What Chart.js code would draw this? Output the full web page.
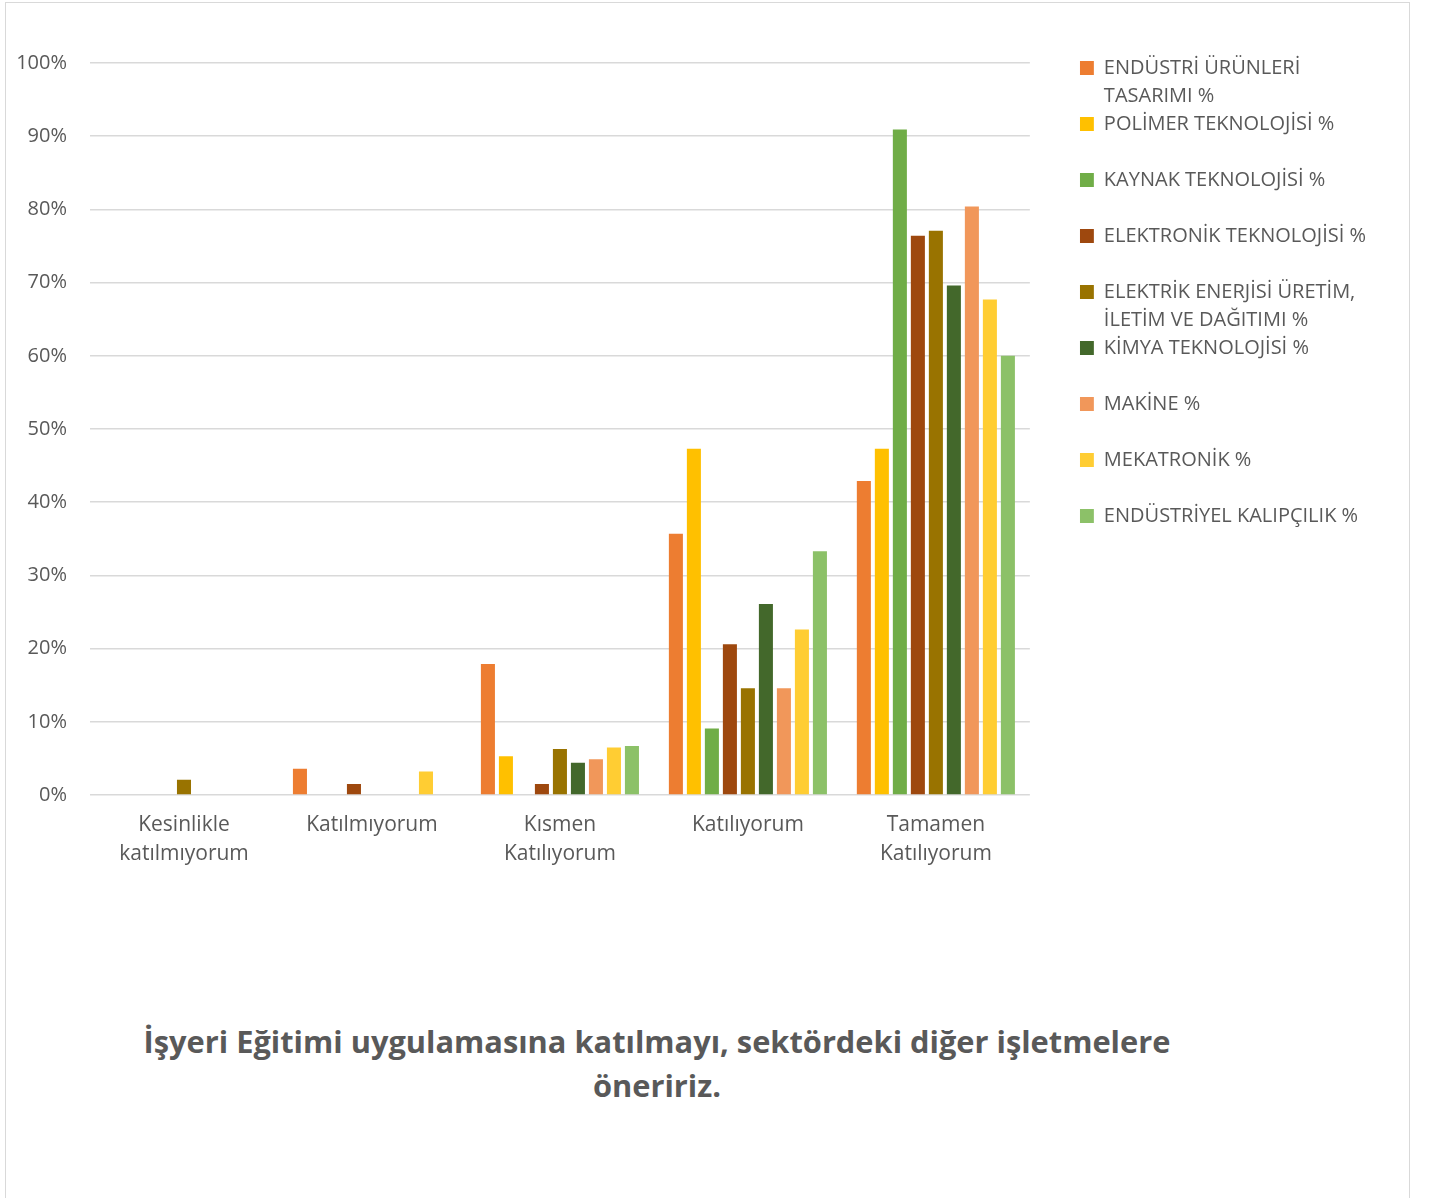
<!DOCTYPE html>
<html>
<head>
<meta charset="utf-8">
<script src="https://cdn.jsdelivr.net/npm/chart.js@4.4.1/dist/chart.umd.min.js"></script>
<style>
  body { margin: 0; background: #fff; }
  #frame { position: absolute; left: 5px; top: 2px; width: 1403px; height: 1200px; border: 1px solid #d9d9d9; }
  #chart { position: absolute; left: 0; top: 0; }
  #title {
    position: absolute; left: 0; top: 1019px; width: 1314px;
    text-align: center; font: bold 30.8px "Open Sans", sans-serif; line-height: 44px; color: #595959;
  }
</style>
</head>
<body>
<div id="frame">
  <canvas id="chart" width="1403" height="892"></canvas>
</div>
<div id="title">İşyeri Eğitimi uygulamasına katılmayı, sektördeki diğer işletmelere<br>öneririz.</div>
<script>
// categories on the x axis (multi-line labels)
const categories = [
  ['Kesinlikle', 'katılmıyorum'],
  'Katılmıyorum',
  ['Kısmen', 'Katılıyorum'],
  'Katılıyorum',
  ['Tamamen', 'Katılıyorum']
];

// one array per department, % answers per category
const endustriUrunleri = [null, 3.6, 17.9, 35.7, 42.9];
const polimer          = [null, null, 5.3, 47.3, 47.3];
const kaynak           = [null, null, null, 9.1, 90.9];
const elektronik       = [null, 1.5, 1.5, 20.6, 76.4];
const elektrik         = [2.1, null, 6.3, 14.6, 77.1];
const kimya            = [null, null, 4.4, 26.1, 69.6];
const makine           = [null, null, 4.9, 14.6, 80.4];
const mekatronik       = [null, 3.2, 6.5, 22.6, 67.7];
const kalipcilik       = [null, null, 6.7, 33.3, 60.0];

const seriesNames = [
  'ENDÜSTRİ ÜRÜNLERİ\nTASARIMI %',
  'POLİMER TEKNOLOJİSİ %',
  'KAYNAK TEKNOLOJİSİ %',
  'ELEKTRONİK TEKNOLOJİSİ %',
  'ELEKTRİK ENERJİSİ ÜRETİM,\nİLETİM VE DAĞITIMI %',
  'KİMYA TEKNOLOJİSİ %',
  'MAKİNE %',
  'MEKATRONİK %',
  'ENDÜSTRİYEL KALIPÇILIK %'
];
const seriesData = [endustriUrunleri, polimer, kaynak, elektronik, elektrik, kimya, makine, mekatronik, kalipcilik];
const seriesColors = ['#ED7D31', '#FFC000', '#70AD47', '#9E480E', '#997300', '#43682B', '#F1975A', '#FFCD33', '#8CC168'];

const yTicks = [0, 10, 20, 30, 40, 50, 60, 70, 80, 90, 100];

const textColor = '#595959';
const baseFont = { family: '"Open Sans", sans-serif', size: 20 };

// push the legend a bit away from the plot area (Excel style gap)
const legendGap = {
  id: 'legendGap',
  afterLayout(chart) {
    chart.legend.left += 50;
    chart.legend.right += 50;
  }
};

const ctx = document.getElementById('chart').getContext('2d');
new Chart(ctx, {
  type: 'bar',
  data: {
    labels: categories,
    datasets: seriesData.map((d, i) => ({
      label: seriesNames[i].replace('\n', ' '),
      data: d,
      backgroundColor: seriesColors[i],
      borderWidth: 0,
      categoryPercentage: 0.862,
      barPercentage: 0.78
    }))
  },
  plugins: [legendGap],
  options: {
    responsive: false,
    animation: false,
    layout: { padding: { top: 35, right: 83, bottom: 0, left: 0 } },
    scales: {
      x: {
        grid: { display: false, drawTicks: false },
        border: { display: false },
        ticks: { color: textColor, font: { ...baseFont, size: 21, lineHeight: 1.38 }, padding: 16, maxRotation: 0, autoSkip: false },
        afterFit: s => { s.height = 100; }
      },
      gapTop: {
        type: 'category', position: 'top', display: true,
        grid: { display: false, drawTicks: false }, border: { display: false },
        ticks: { display: false },
        afterFit: s => { s.height = 25; }
      },
      y: {
        min: 0, max: 100,
        afterBuildTicks: s => { s.ticks = yTicks.map(v => ({ value: v })); },
        grid: { color: '#d9d9d9', lineWidth: 1.5, drawTicks: false },
        border: { display: false },
        ticks: { color: textColor, font: baseFont, padding: 23, callback: v => v + '%' },
        afterFit: s => { s.width = 84; }
      }
    },
    plugins: {
      tooltip: { enabled: false },
      title: { display: false },
      legend: {
        position: 'right',
        align: 'start',
        title: { display: true, text: '', font: { size: 20, lineHeight: 1 }, padding: 0 },
        labels: {
          color: textColor,
          font: { ...baseFont, lineHeight: 1.4 },
          boxWidth: 14,
          boxHeight: 14,
          padding: 0,
          generateLabels: chart => {
            const items = Chart.defaults.plugins.legend.labels.generateLabels(chart);
            items.forEach((it, i) => {
              const lines = seriesNames[i].split('\n');
              if (lines.length < 2) lines.push('');
              it.text = lines;
              it.lineWidth = 0;
            });
            return items;
          }
        }
      }
    }
  }
});
</script>
</body>
</html>
